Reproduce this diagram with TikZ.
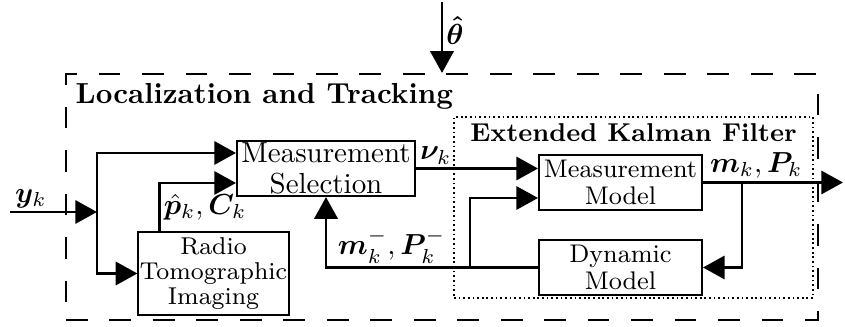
\documentclass[tikz,border=0pt]{standalone}
\usepackage{amsmath,bm}
\usetikzlibrary{arrows.meta,positioning,fit}

\tikzset{
  block/.style={draw, line width=0.7pt, align=center, inner sep=0.5pt},
  sig/.style={line width=1pt},
  lbl/.style={inner sep=1pt},
}

\begin{document}
\begin{tikzpicture}[x=0.345pt, y=-0.345pt, >={Triangle[length=7.5pt,width=8pt]}]
  \useasboundingbox (0,0) rectangle (845,327);
  % blocks
  \node (sel) [block, minimum width=61.4pt, minimum height=19pt, font=\fontsize{10}{10.7}\selectfont] at (326,168.5) {Measurement\\Selection};
  \node (rti) [block, minimum width=51.4pt, minimum height=28.6pt, font=\fontsize{8.4}{8.6}\selectfont] at (213.5,273.5) {Radio\\Tomographic\\Imaging};
  \node (mm) [block, minimum width=56.2pt, minimum height=19pt, font=\fontsize{8.8}{9.3}\selectfont] at (620.5,182.5) {Measurement\\Model};
  \node (dm) [block, minimum width=56.2pt, minimum height=19pt, font=\fontsize{8.8}{9.3}\selectfont] at (620.5,267.5) {Dynamic\\Model};

  % frames
  \node (lt) [draw, line width=0.7pt, dash pattern=on 7.5pt off 7.5pt, fit={(66,74) (818,320)}, inner sep=0pt] {};
  \node (ltname) [anchor=north west, font=\bfseries, inner sep=3.5pt] at (lt.north west) {Localization and Tracking};
  \node (ekf) [draw, line width=0.6pt, densely dotted, fit={(454,117) (813,298)}, inner sep=0pt] {};
  \node (ekfname) [anchor=north, font=\fontsize{8.9}{10}\selectfont\bfseries, inner sep=2.5pt] at (ekf.north) {Extended Kalman Filter};

  \coordinate (yin) at (10,212);
  \coordinate (split) at (97,212);
  \coordinate (theta) at (442,2);
  \coordinate (out) at (843,182.5);
  \coordinate (fb) at (742,182.5);
  \coordinate (j) at (470,267.5);

  % signals
  \draw[sig,->] (theta) -- node[right, pos=0.4, lbl] {$\bm{\hat{\theta}}$} (lt.north -| theta);
  \draw[sig,->] (yin) -- node[above, pos=0.24, lbl] {$\bm y_k$} (split);
  \draw[sig,->] (split) |- ([yshift=5.35pt]sel.west);
  \draw[sig,->] (split) |- (rti.west);
  \draw[sig,->] ([xshift=7.6pt]rti.north west) |- node[right, pos=0.25, lbl] {$\hat{\bm p}_k, \bm C_k$} ([yshift=-5pt]sel.west);
  \draw[sig,->] (sel.east) -- node[pos=0, anchor=south west, lbl] {$\bm\nu_k$} (sel.east -| mm.west);
  \draw[sig,->] (mm.east) -- node[above, pos=0.38, lbl] {$\bm m_k, \bm P_k$} (out);
  \draw[sig,->] (fb) |- (dm.east);
  \draw[sig,->] (dm.west) -| node[above, pos=0.345, lbl] {$\bm m_k^-, \bm P_k^-$} (sel.south);
  \draw[sig,->] (j) |- ([yshift=-5.35pt]mm.west);
\end{tikzpicture}
\end{document}
